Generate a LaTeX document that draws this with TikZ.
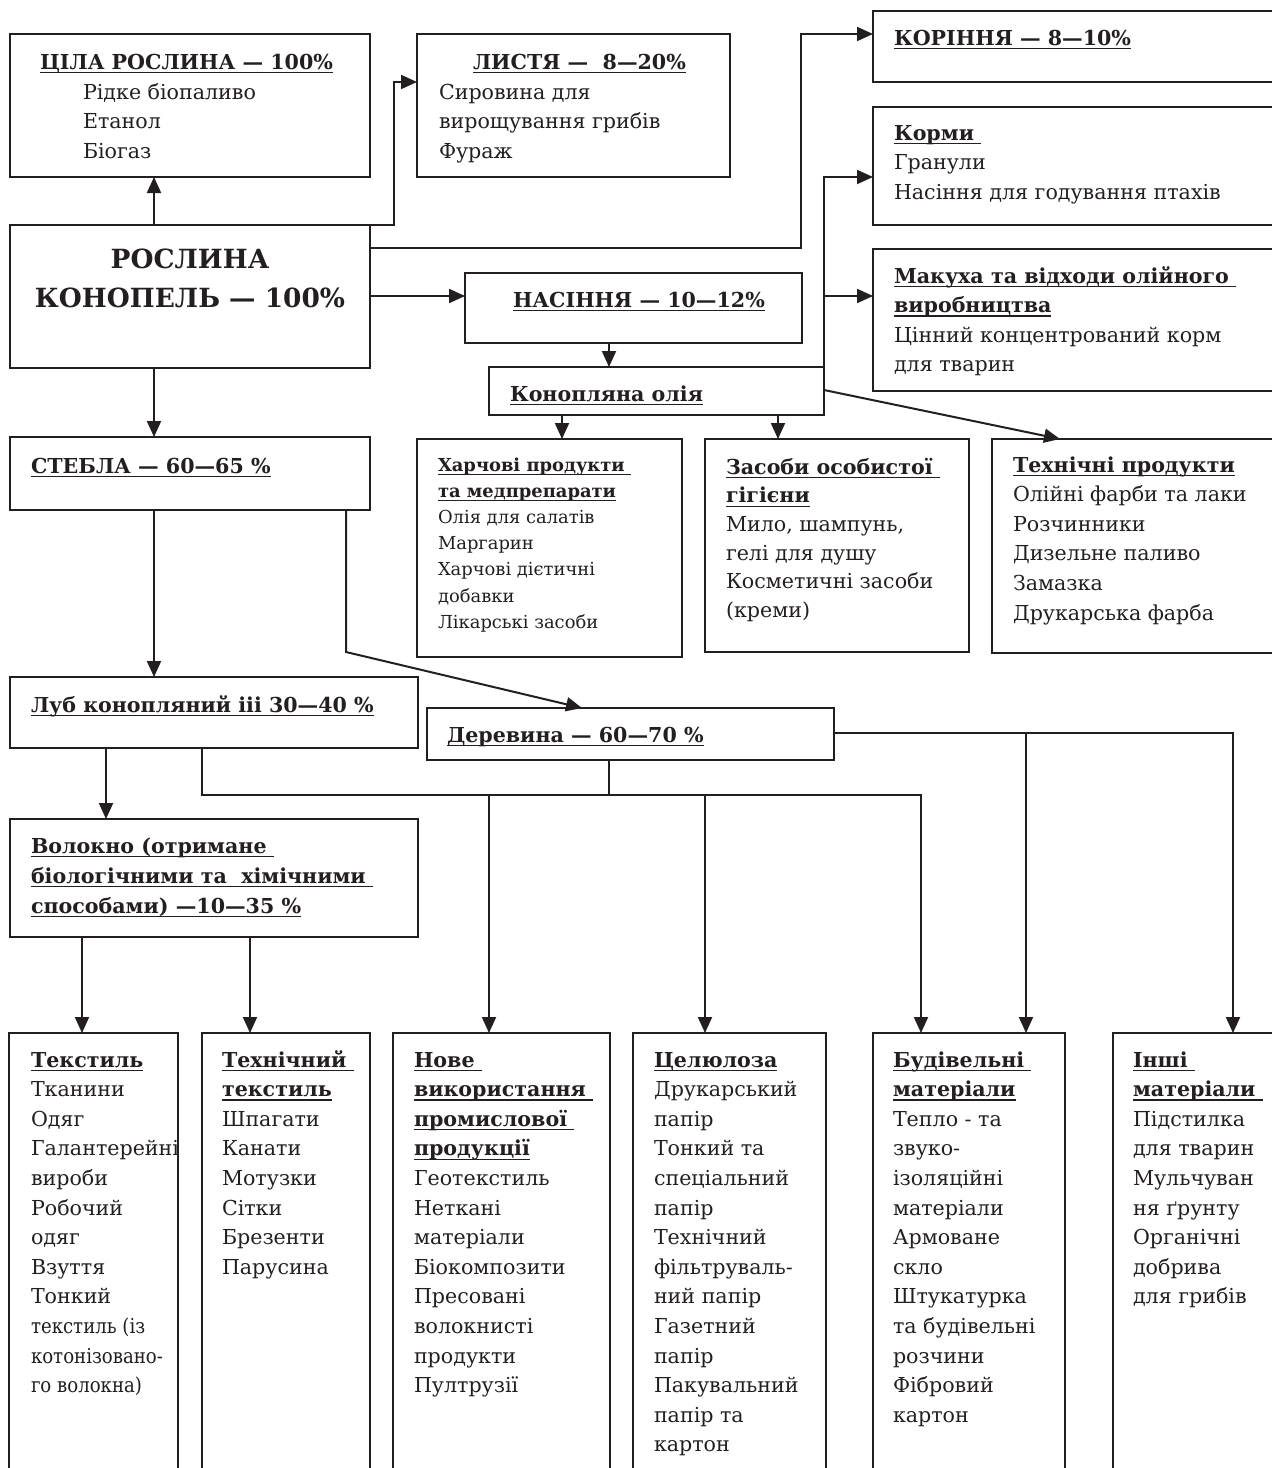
\documentclass[tikz,border=0pt]{standalone}
\usepackage{fontspec}
\setmainfont{DejaVu Serif}
\usepackage{graphicx}
\usetikzlibrary{arrows.meta}
\definecolor{ink}{RGB}{35,31,32}
\newcommand\hul[1]{\setbox0=\hbox{#1}\rlap{\rule[-4pt]{\wd0}{1.2pt}}\box0}
\tikzset{
  box/.style={draw=ink, line width=2pt, anchor=north west, inner sep=0pt, outer sep=0pt},
  conn/.style={draw=ink, line width=2pt},
  arr/.style={conn, -{Triangle[length=16pt,width=14pt]}},
  txt/.style={anchor=north west, inner sep=0pt, outer sep=0pt, align=left, text=ink, font=\fontsize{20.6}{29.6}\selectfont},
}
\begin{document}
\begin{tikzpicture}[x=1pt,y=-1pt]
\fill[white] (0,0) rectangle (1272,1468);
\useasboundingbox (0,0) rectangle (1272,1468);
% boxes
\node[box,minimum width=360pt,minimum height=143pt] (cila) at (10,34) {};
\node[box,minimum width=313pt,minimum height=143pt] (lystia) at (417,34) {};
\node[box,minimum width=420pt,minimum height=71pt] (korin) at (873,11) {};
\node[box,minimum width=420pt,minimum height=118pt] (kormy) at (873,107) {};
\node[box,minimum width=420pt,minimum height=142pt] (makuha) at (873,249) {};
\node[box,minimum width=360pt,minimum height=143pt] (roslyna) at (10,225) {};
\node[box,minimum width=337pt,minimum height=70pt] (nasin) at (465,273) {};
\node[box,minimum width=335pt,minimum height=48pt] (olia) at (489,367) {};
\node[box,minimum width=265pt,minimum height=218pt] (harch) at (417,439) {};
\node[box,minimum width=264pt,minimum height=213pt] (zasoby) at (705,439) {};
\node[box,minimum width=300pt,minimum height=214pt] (tehn) at (992,439) {};
\node[box,minimum width=360pt,minimum height=73pt] (stebla) at (10,437) {};
\node[box,minimum width=408pt,minimum height=71pt] (lub) at (10,677) {};
\node[box,minimum width=407pt,minimum height=52pt] (derev) at (427,708) {};
\node[box,minimum width=408pt,minimum height=118pt] (volokno) at (10,819) {};
\node[box,minimum width=169pt,minimum height=460pt] (tekst) at (9,1033) {};
\node[box,minimum width=168pt,minimum height=460pt] (tehtekst) at (202,1033) {};
\node[box,minimum width=217pt,minimum height=460pt] (nove) at (393,1033) {};
\node[box,minimum width=193pt,minimum height=460pt] (cel) at (633,1033) {};
\node[box,minimum width=192pt,minimum height=460pt] (bud) at (873,1033) {};
\node[box,minimum width=180pt,minimum height=460pt] (inshi) at (1113,1033) {};
% connectors
\draw[arr] ([shift={(144,0)}]roslyna.north west) -- ([shift={(144,0)}]cila.south west);
\draw[arr] (roslyna.north east) -- ++(24,0) |- ([shift={(0,48)}]lystia.north west);
\draw[arr] ([shift={(0,23)}]roslyna.north east) -- ++(431,0) |- ([shift={(0,23)}]korin.north west);
\draw[arr] ([shift={(0,71)}]roslyna.north east) -- ([shift={(0,23)}]nasin.north west);
\draw[arr] ([shift={(144,0)}]nasin.south west) -- ([shift={(120,0)}]olia.north west);
\draw[arr] (olia.north east) |- ([shift={(0,70)}]kormy.north west);
\draw[arr] ([shift={(0,-71)}]olia.north east) -- ([shift={(0,47)}]makuha.north west);
\draw[arr] ([shift={(0,23)}]olia.north east) -- ([shift={(68,0)}]tehn.north west);
\draw[arr] ([shift={(73,0)}]olia.south west) -- ([shift={(145,0)}]harch.north west);
\draw[arr] ([shift={(289,0)}]olia.south west) -- ([shift={(73,0)}]zasoby.north west);
\draw[arr] ([shift={(144,0)}]roslyna.south west) -- ([shift={(144,0)}]stebla.north west);
\draw[arr] ([shift={(144,0)}]stebla.south west) -- ([shift={(144,0)}]lub.north west);
\draw[arr] ([shift={(336,0)}]stebla.south west) -- ++(0,142) -- ([shift={(155,0)}]derev.north west);
\draw[arr] ([shift={(96,0)}]lub.south west) -- ([shift={(96,0)}]volokno.north west);
\draw[arr] ([shift={(192,0)}]lub.south west) |- ([shift={(48,-238)}]bud.north west) -- ([shift={(48,0)}]bud.north west);
\draw[conn] ([shift={(182,0)}]derev.south west) -- ++(0,35);
\draw[arr] ([shift={(96,-238)}]nove.north west) -- ([shift={(96,0)}]nove.north west);
\draw[arr] ([shift={(72,-238)}]cel.north west) -- ([shift={(72,0)}]cel.north west);
\draw[arr] ([shift={(0,25)}]derev.north east) -| ([shift={(120,0)}]inshi.north west);
\draw[arr] ([shift={(153,-300)}]bud.north west) -- ([shift={(153,0)}]bud.north west);
\draw[arr] ([shift={(72,0)}]volokno.south west) -- ([shift={(73,0)}]tekst.north west);
\draw[arr] ([shift={(240,0)}]volokno.south west) -- ([shift={(48,0)}]tehtekst.north west);
% texts
\node[txt] (cilaH) at (40,48.3) {\strut\hul{\bfseries ЦІЛА РОСЛИНА — 100\%}};
\node[txt] (cilaB) at (83,78.3) {\strut Рідке біопаливо\\Етанол\\Біогаз};
\node[txt] (lystH) at (473,48.3) {\strut\hul{\bfseries ЛИСТЯ —\ \ 8—20\%}};
\node[txt] (lystB) at (439,78.3) {\strut Сировина для\\вирощування грибів\\Фураж};
\node[txt] (korT) at (894,24.3) {\strut\hul{\bfseries КОРІННЯ — 8—10\%}};
\node[txt] (kormT) at (894,119.3) {\strut\hul{\bfseries Корми\ }\\Гранули\\Насіння для годування птахів};
\node[txt] (makT) at (894,262.3) {\strut\hul{\bfseries Макуха та відходи олійного\ }\\\hul{\bfseries виробництва}\\Цінний концентрований корм\\для тварин};
\node[txt, anchor=north, align=center, font=\fontsize{26.4}{39}\selectfont\bfseries] (roslT) at (190,240.7) {\strut РОСЛИНА\\КОНОПЕЛЬ — 100\%};
\node[txt] (nasT) at (513,286.3) {\strut\hul{\bfseries НАСІННЯ — 10—12\%}};
\node[txt] (oliaT) at (510,380.3) {\strut\hul{\bfseries Конопляна олія}};
\node[txt, font=\fontsize{17.9}{26.2}\selectfont] (harchT) at (438,452.7) {\strut\hul{\bfseries Харчові продукти\ }\\\hul{\bfseries та медпрепарати}\\Олія для салатів\\Маргарин\\Харчові дієтичні\\добавки\\Лікарські засоби};
\node[txt, font=\fontsize{20.6}{28.7}\selectfont] (zasT) at (726,453.9) {\strut\hul{\bfseries Засоби особистої\ }\\\hul{\bfseries гігієни}\\Мило, шампунь,\\гелі для душу\\Косметичні засоби\\(креми)};
\node[txt] (tehnT) at (1013,451.3) {\strut\hul{\bfseries Технічні продукти}\\Олійні фарби та лаки\\Розчинники\\Дизельне паливо\\Замазка\\Друкарська фарба};
\node[txt] (stebT) at (31,452.3) {\strut\hul{\bfseries СТЕБЛА — 60—65 \%}};
\node[txt] (lubT) at (31,691.3) {\strut\hul{\bfseries Луб конопляний ііі 30—40 \%}};
\node[txt] (derT) at (447,721.3) {\strut\hul{\bfseries Деревина — 60—70 \%}};
\node[txt, font=\fontsize{20.6}{30}\selectfont] (volT) at (31,832) {\strut\hul{\bfseries Волокно (отримане\ }\\\hul{\bfseries біологічними та\ \ хімічними\ }\\\hul{\bfseries способами) —10—35 \%}};
\node[txt] (tekT) at (31,1046.3) {\strut\hul{\bfseries Текстиль}\\Тканини\\Одяг\\Галантерейні\\вироби\\Робочий\\одяг\\Взуття\\Тонкий\\\scalebox{0.88}[1]{текстиль (із}\\\scalebox{0.88}[1]{котонізовано-}\\\scalebox{0.88}[1]{го волокна)}};
\node[txt] (ttT) at (222,1046.3) {\strut\hul{\bfseries Технічний\ }\\\hul{\bfseries текстиль}\\Шпагати\\Канати\\Мотузки\\Сітки\\Брезенти\\Парусина};
\node[txt] (noveT) at (414,1046.3) {\strut\hul{\bfseries Нове\ }\\\hul{\bfseries використання\ }\\\hul{\bfseries промислової\ }\\\hul{\bfseries продукції}\\Геотекстиль\\Неткані\\матеріали\\Біокомпозити\\Пресовані\\волокнисті\\продукти\\Пултрузії};
\node[txt] (celT) at (654,1046.3) {\strut\hul{\bfseries Целюлоза}\\Друкарський\\папір\\Тонкий та\\спеціальний\\папір\\Технічний\\фільтруваль-\\ний папір\\Газетний\\папір\\Пакувальний\\папір та\\картон};
\node[txt] (budT) at (893,1046.3) {\strut\hul{\bfseries Будівельні\ }\\\hul{\bfseries матеріали}\\Тепло - та\\звуко-\\ізоляційні\\матеріали\\Армоване\\скло\\Штукатурка\\та будівельні\\розчини\\Фібровий\\картон};
\node[txt] (inT) at (1133,1046.3) {\strut\hul{\bfseries Інші\ }\\\hul{\bfseries матеріали\ }\\Підстилка\\для тварин\\Мульчуван\\ня ґрунту\\Органічні\\добрива\\для грибів};
\end{tikzpicture}
\end{document}
